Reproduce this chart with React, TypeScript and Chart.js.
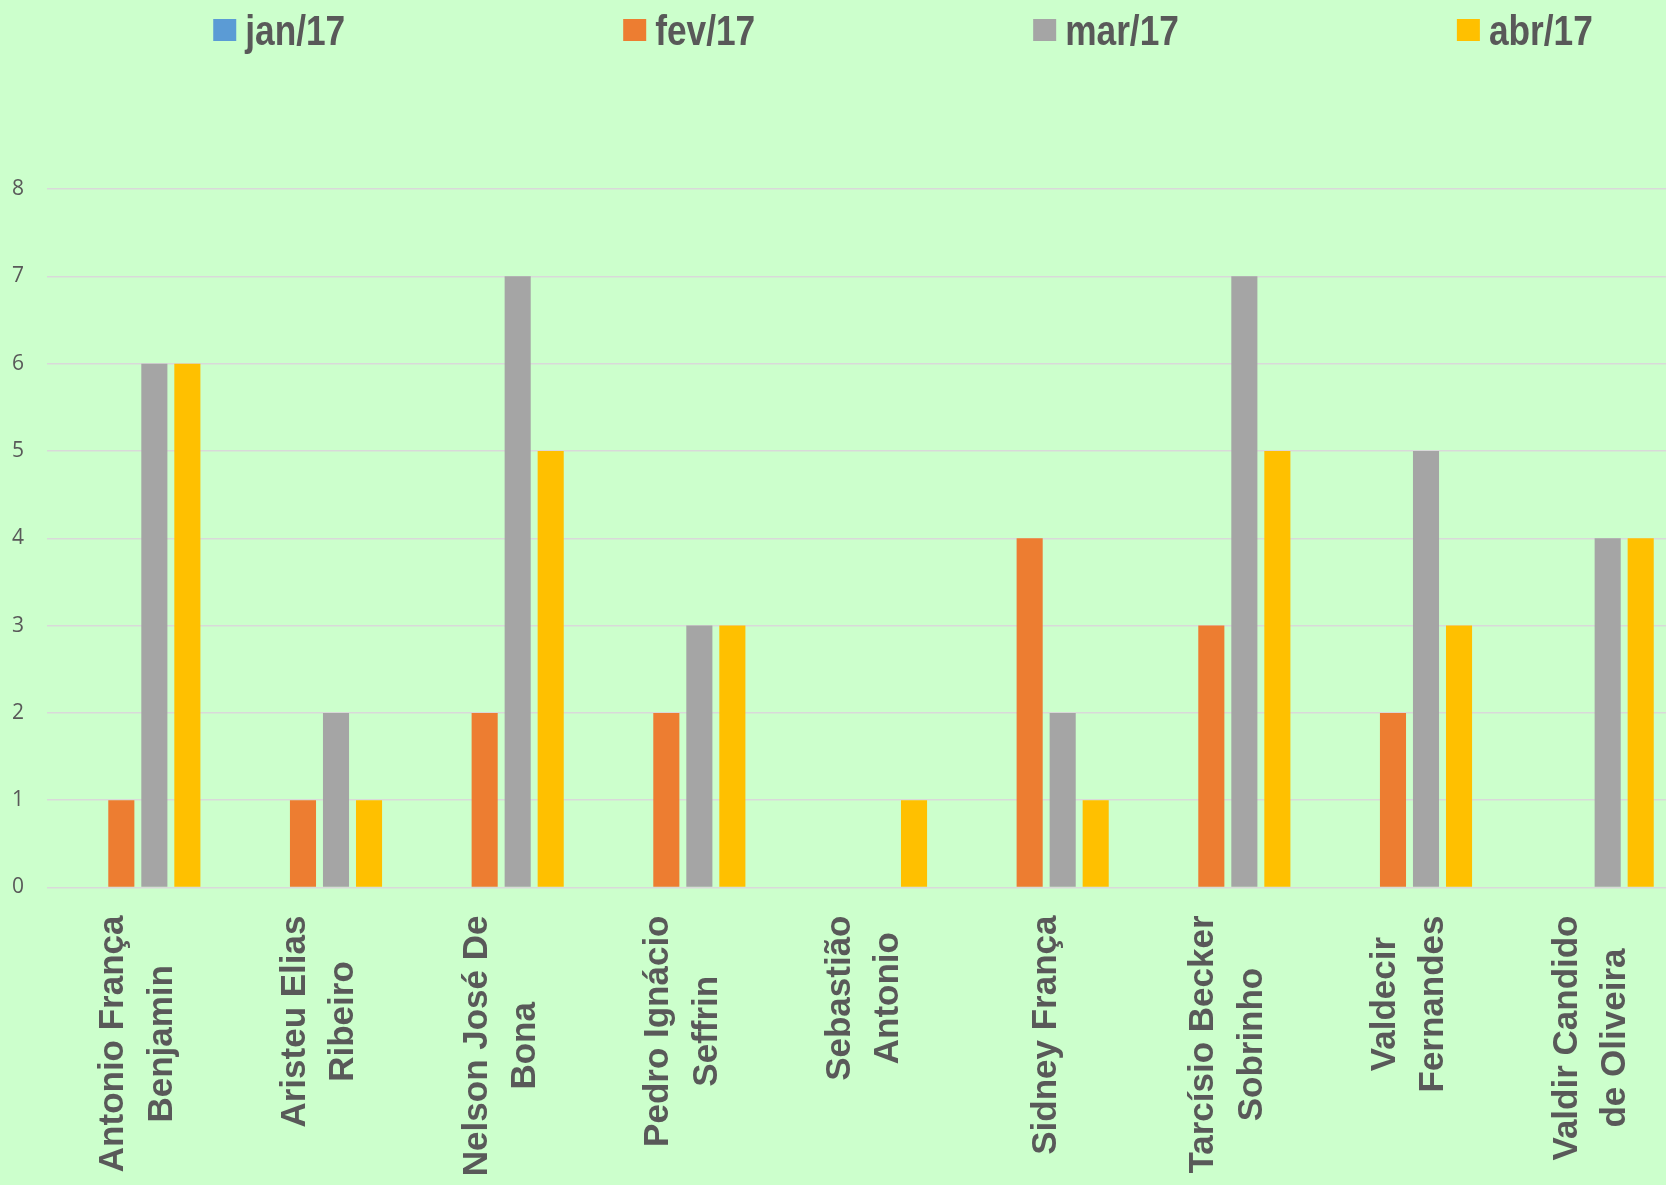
import React, { useEffect, useRef } from "react";
import { Chart, registerables } from "chart.js";

Chart.register(...registerables);

const categories: string[][] = [
  ["Antonio França", "Benjamin"],
  ["Aristeu Elias", "Ribeiro"],
  ["Nelson José De", "Bona"],
  ["Pedro Ignácio", "Seffrin"],
  ["Sebastião", "Antonio"],
  ["Sidney França"],
  ["Tarcísio Becker", "Sobrinho"],
  ["Valdecir", "Fernandes"],
  ["Valdir Candido", "de Oliveira"],
];

const seriesNames = ["jan/17", "fev/17", "mar/17", "abr/17"];
const jan17 = [0, 0, 0, 0, 0, 0, 0, 0, 0];
const fev17 = [1, 1, 2, 2, 0, 4, 3, 2, 0];
const mar17 = [6, 2, 7, 3, 0, 2, 7, 5, 4];
const abr17 = [6, 1, 5, 3, 1, 1, 5, 3, 4];
const yTickValues = [0, 1, 2, 3, 4, 5, 6, 7, 8];

const seriesColors = ["#5B9BD5", "#ED7D31", "#A5A5A5", "#FFC000"];
const TEXT = "#595959";

const CANVAS_W = 1806;
const CANVAS_H = 1185;

const legendPlugin = {
  id: "excelLegend",
  afterDraw(chart: any) {
    const ctx = chart.ctx;
    const items = chart.data.datasets.map((d: any) => ({ text: d.label, color: d.backgroundColor }));
    const fontSize = 43;
    const hScale = 0.82;
    const box = 23;
    const boxH = 22;
    const gap = 9;
    const pad = 278;
    ctx.save();
    ctx.font = `bold ${fontSize}px "Liberation Sans", Arial, sans-serif`;
    const widths = items.map((it: any) => ctx.measureText(it.text).width * hScale);
    const total = widths.reduce((a: number, w: number) => a + box + gap + w, 0) + pad * (items.length - 1);
    let x = chart.width / 2 - total / 2;
    items.forEach((it: any, i: number) => {
      ctx.fillStyle = it.color;
      ctx.fillRect(x, 19, box, boxH);
      ctx.fillStyle = TEXT;
      ctx.textAlign = "left";
      ctx.textBaseline = "alphabetic";
      ctx.save();
      ctx.translate(x + box + gap, 45);
      ctx.scale(hScale, 1);
      ctx.fillText(it.text, 0, 0);
      ctx.restore();
      x += box + gap + widths[i] + pad;
    });
    ctx.restore();
  },
};

const xLabelPlugin = {
  id: "xLabels",
  afterDraw(chart: any) {
    const ctx = chart.ctx;
    const xs = chart.scales.x;
    const bottom = chart.chartArea.bottom;
    const fontSize = 35;
    const lineH = 48.5;
    ctx.save();
    ctx.font = `bold ${fontSize}px "Liberation Sans", Arial, sans-serif`;
    ctx.fillStyle = TEXT;
    ctx.textAlign = "center";
    ctx.textBaseline = "middle";
    categories.forEach((lines, i) => {
      const cx = xs.getPixelForValue(i);
      const maxW = Math.max(...lines.map((l) => ctx.measureText(l).width));
      ctx.save();
      ctx.translate(cx, bottom + 28 + maxW / 2);
      ctx.rotate(-Math.PI / 2);
      lines.forEach((l, j) => {
        ctx.fillText(l, 0, (j - (lines.length - 1) / 2) * lineH);
      });
      ctx.restore();
    });
    ctx.restore();
  },
};

export default function App() {
  const ref = useRef<HTMLCanvasElement | null>(null);
  useEffect(() => {
    if (!ref.current) return;
    const values = [jan17, fev17, mar17, abr17];
    const chart = new Chart(ref.current, {
      type: "bar",
      data: {
        labels: categories,
        datasets: seriesNames.map((name, i) => ({
          label: name,
          data: values[i],
          backgroundColor: seriesColors[i],
          borderWidth: 0,
          barPercentage: 0.79,
          categoryPercentage: 0.727,
        })),
      },
      options: {
        animation: false,
        responsive: false,
        devicePixelRatio: 1,
        layout: { padding: { top: 189, right: 124, left: 0, bottom: 0 } },
        plugins: {
          legend: { display: false },
          tooltip: { enabled: false },
        },
        scales: {
          x: {
            grid: { display: false },
            border: { display: false },
            ticks: { display: false },
            afterFit: (s: any) => {
              s.height = CANVAS_H - 887.5;
            },
          },
          y: {
            min: 0,
            max: 8,
            afterBuildTicks: (s: any) => {
              s.ticks = yTickValues.map((v) => ({ value: v }));
            },
            grid: { color: "#d9d9d9", lineWidth: 1.5, drawTicks: false },
            border: { display: false },
            ticks: {
              color: TEXT,
              padding: 23,
              font: { family: '"Open Sans", sans-serif', size: 21 },
            },
            afterFit: (s: any) => {
              s.width = 47;
            },
          },
        },
      },
      plugins: [legendPlugin, xLabelPlugin],
    });
    return () => chart.destroy();
  }, []);
  return (
    <div
      style={{
        position: "fixed",
        left: 0,
        top: 0,
        width: 1666,
        height: 1185,
        overflow: "hidden",
        background: "#CCFFCC",
      }}
    >
      <canvas
        ref={ref}
        width={CANVAS_W}
        height={CANVAS_H}
        style={{ display: "block", width: CANVAS_W, height: CANVAS_H }}
      />
    </div>
  );
}
